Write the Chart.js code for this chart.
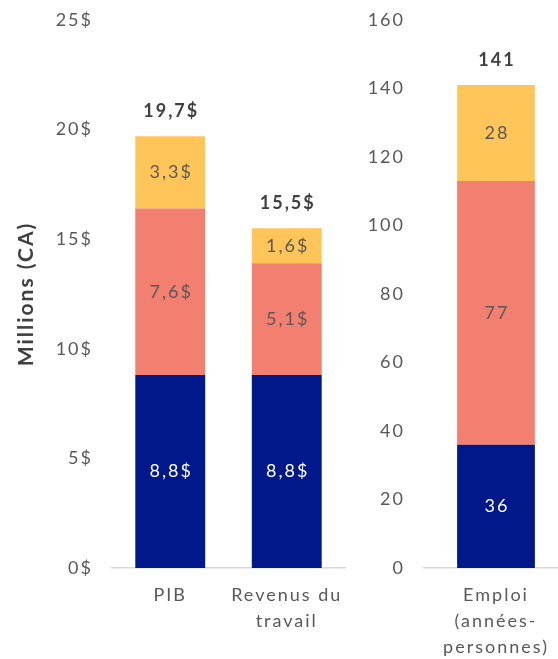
<!DOCTYPE html>
<html>
<head>
<meta charset="utf-8">
<script src="https://cdn.jsdelivr.net/npm/chart.js"></script>
<style>
  html, body { margin: 0; padding: 0; background: #fff; overflow: hidden; }
  body { width: 558px; height: 659px; position: relative; }
  #wrapLeft { position: absolute; left: 0; top: 0; width: 350px; height: 659px; }
  #wrapRight { position: absolute; left: 360px; top: 0; width: 208px; height: 659px; }
</style>
</head>
<body>
<div id="wrapLeft"><canvas id="leftChart"></canvas></div>
<div id="wrapRight"><canvas id="rightChart"></canvas></div>

<script>
  // left panel: millions de dollars
  const moneyLabels = ['PIB', ['Revenus du', 'travail']];
  const moneyDirect = [8.8, 8.8];
  const moneyIndirect = [7.6, 5.1];
  const moneyInduced = [3.3, 1.6];

  // right panel: emplois
  const jobLabels = [['Emploi', '(années-', 'personnes)']];
  const jobDirect = [36];
  const jobIndirect = [77];
  const jobInduced = [28];

  const navy = '#00188a';
  const salmon = '#f27f70';
  const yellow = '#ffc558';
  const grey = '#595959';
  const dark = '#404040';

  Chart.defaults.font.family = 'Lato, "Open Sans", sans-serif';
  Chart.defaults.font.size = 18;
  Chart.defaults.color = grey;

  function fmtMoney(v) {
    return v.toFixed(1).replace('.', ',') + '$';
  }

  // the source font is spaced out wider than Lato
  const spacing = {
    id: 'spacing',
    beforeDraw(chart) { chart.ctx.letterSpacing = '2px'; }
  };

  function labelPlugin(fmt) {
    return {
      id: 'barLabels',
      afterDatasetsDraw(chart) {
        const ctx = chart.ctx;
        ctx.save();
        ctx.textAlign = 'center';
        ctx.textBaseline = 'middle';
        const n = chart.data.datasets.length;
        chart.data.datasets.forEach((ds, i) => {
          const meta = chart.getDatasetMeta(i);
          meta.data.forEach((bar, j) => {
            ctx.font = '18px Lato, "Open Sans", sans-serif';
            ctx.fillStyle = i === 0 ? '#ffffff' : grey;
            ctx.fillText(fmt(ds.data[j]), bar.x + 1, (bar.y + bar.base) / 2);
          });
        });
        // totals above the stack
        const top = chart.getDatasetMeta(n - 1);
        top.data.forEach((bar, j) => {
          let total = 0;
          chart.data.datasets.forEach(ds => { total += ds.data[j]; });
          ctx.font = 'bold 18px Lato, "Open Sans", sans-serif';
          ctx.fillStyle = dark;
          ctx.fillText(fmt(Math.round(total * 10) / 10), bar.x + 1, bar.y - 25);
        });
        ctx.restore();
      }
    };
  }

  function makeChart(id, labels, d1, d2, d3, maxY, step, tickFmt, yWidth, barPct, withTitle, fmt) {
    return new Chart(document.getElementById(id), {
      type: 'bar',
      data: {
        labels: labels,
        datasets: [
          { data: d1, backgroundColor: navy },
          { data: d2, backgroundColor: salmon },
          { data: d3, backgroundColor: yellow }
        ]
      },
      options: {
        responsive: true,
        maintainAspectRatio: false,
        animation: false,
        layout: { padding: { top: 20, right: id === 'leftChart' ? 5 : 0, bottom: 0, left: 0 } },
        datasets: { bar: { barPercentage: barPct, categoryPercentage: 1 } },
        plugins: { legend: { display: false }, tooltip: { enabled: false } },
        scales: {
          x: {
            stacked: true,
            grid: { display: false },
            border: { display: true, color: '#d9d9d9', width: 1.5 },
            ticks: { color: grey, padding: 6, font: { size: 18, lineHeight: 1.45 }, maxRotation: 0, autoSkip: false },
            afterFit(scale) { scale.height = 91; }
          },
          y: {
            stacked: true,
            min: 0,
            max: maxY,
            grid: { display: false, drawTicks: false },
            border: { display: false },
            ticks: { stepSize: step, color: grey, padding: 19, font: { size: 18 }, callback: tickFmt },
            title: {
              display: withTitle,
              text: 'Millions (CA)',
              color: dark,
              font: { size: 21, weight: 'bold' },
              padding: { top: 14, bottom: 0 }
            },
            afterFit(scale) {
              scale.width = yWidth;
              scale.paddingTop = 0;
              scale.paddingBottom = 0;
            }
          }
        }
      },
      plugins: [spacing, labelPlugin(fmt)]
    });
  }

  makeChart('leftChart', moneyLabels, moneyDirect, moneyIndirect, moneyInduced,
    25, 5, v => v + '$', 112, 0.6, true, fmtMoney);
  makeChart('rightChart', jobLabels, jobDirect, jobIndirect, jobInduced,
    160, 20, v => v, 64, 0.54, false, v => String(v));
</script>
</body>
</html>
